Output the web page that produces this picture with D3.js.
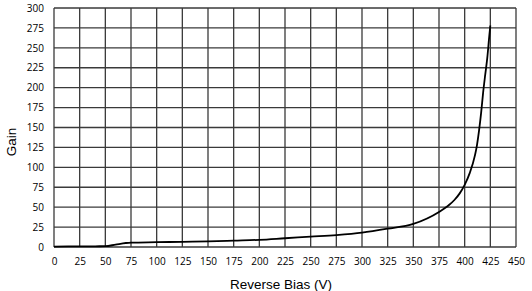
<!DOCTYPE html>
<html>
<head>
<meta charset="utf-8" />
<style>
body { margin:0; background:#fff; }
.tick text { font-family: "Open Sans", "Liberation Sans", sans-serif; font-size:10px; fill:#000; }
.title { font-family: "Liberation Sans", Arial, sans-serif; font-size:13.5px; fill:#000; }
</style>
</head>
<body>
<svg id="chart" width="532" height="291"></svg>
<script src="https://cdn.jsdelivr.net/npm/d3@7"></script>
<script>
// reverse bias (V) and gain
var bias = [0, 25, 50, 60, 70, 75, 100, 125, 150, 175, 200, 225, 250, 275, 300, 325, 350, 375, 385, 390, 395, 400, 405, 410, 412, 414, 416, 418, 420, 422, 424, 425];
var gain = [0.5, 0.8, 1, 3, 5, 5.5, 6, 6.5, 7, 8, 9, 11, 13, 15, 18, 23, 29, 44, 53, 59, 67, 78, 93, 115, 128, 146, 168, 194, 216, 237, 265, 278];
var xTicks = d3.range(0, 451, 25);
var yTicks = d3.range(0, 301, 25);

var svg = d3.select("#chart");
var plotL = 54, plotR = 516, plotT = 8, plotB = 247;

var x = d3.scaleLinear().domain([0, 450]).range([plotL, plotR]);
var y = d3.scaleLinear().domain([0, 300]).range([plotB, plotT]);

// grid
var grid = svg.append("g").attr("stroke", "#3a3a3a").attr("stroke-width", 1.3);
grid.selectAll("line.v").data(xTicks).enter().append("line").attr("class", "v")
	.attr("x1", function(d) { return x(d); }).attr("x2", function(d) { return x(d); })
	.attr("y1", plotT).attr("y2", plotB);
grid.selectAll("line.h").data(yTicks).enter().append("line").attr("class", "h")
	.attr("y1", function(d) { return y(d); }).attr("y2", function(d) { return y(d); })
	.attr("x1", plotL).attr("x2", plotR);

var xAxis = svg.append("g").attr("transform", "translate(0," + plotB + ")")
	.call(d3.axisBottom(x).tickValues(xTicks).tickSize(0).tickPadding(11));
var yAxis = svg.append("g").attr("transform", "translate(" + plotL + ",0)")
	.call(d3.axisLeft(y).tickValues(yTicks).tickSize(0).tickPadding(10));
xAxis.select(".domain").remove();
yAxis.select(".domain").remove();

var pts = bias.map(function(b, i) { return [b, gain[i]]; });
svg.append("path")
	.datum(pts)
	.attr("fill", "none")
	.attr("stroke", "#000")
	.attr("stroke-width", 1.8)
	.attr("d", d3.line().x(function(d) { return x(d[0]); }).y(function(d) { return y(d[1]); }).curve(d3.curveMonotoneX));

svg.append("text").attr("class", "title")
	.attr("x", 281).attr("y", 289)
	.attr("text-anchor", "middle").text("Reverse Bias (V)");
svg.append("text").attr("class", "title")
	.attr("transform", "translate(16,142) rotate(-90)")
	.attr("text-anchor", "middle").text("Gain");
</script>
</body>
</html>
